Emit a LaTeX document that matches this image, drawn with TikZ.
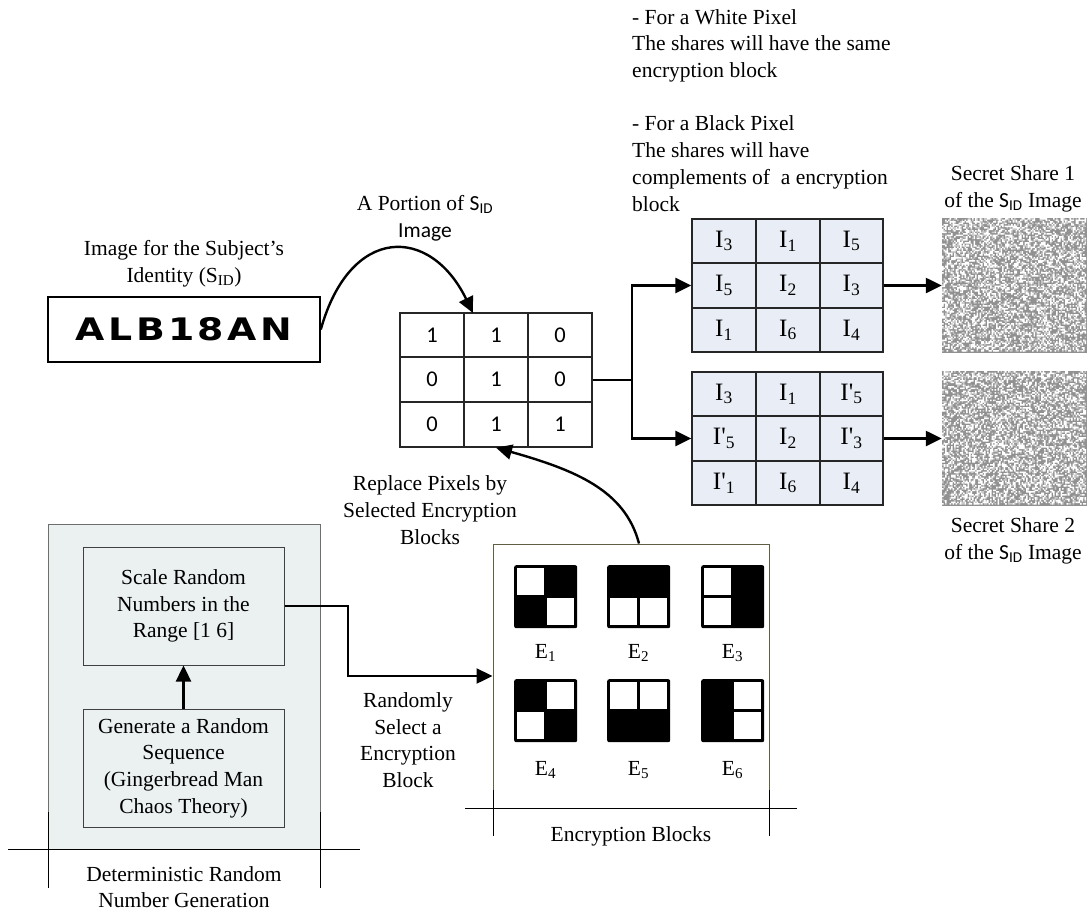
\documentclass[tikz,border=0pt]{standalone}
\usepackage{fontspec}
\usepackage{graphicx}
\setmainfont{Liberation Serif}
\newfontfamily\carl{Carlito}
\newfontfamily\dvb{DejaVu Sans}
\usetikzlibrary{arrows.meta,calc}
\definecolor{gridfill}{RGB}{233,237,245}
\definecolor{drngfill}{RGB}{235,241,241}
\definecolor{drngborder}{RGB}{110,110,110}
\definecolor{encborder}{RGB}{95,95,70}
\definecolor{noisemid}{RGB}{145,145,145}
\definecolor{noiselight}{RGB}{200,200,200}
\tikzset{
  txt/.style={font=\fontsize{21.5}{26.7}\selectfont, align=center, inner sep=0pt},
  conn/.style={line width=2.4pt, -{Triangle[length=16pt,width=15pt]}},
  plainline/.style={line width=2.4pt},
  gridbox/.style={draw=black!85, line width=1.3pt, fill=gridfill, minimum width=191pt, minimum height=133pt, inner sep=0pt},
  gridline/.style={draw=black!85, line width=1.3pt},
  celltxt/.style={font=\fontsize{25}{25}\selectfont, inner sep=0pt},
  digit/.style={font=\carl\fontsize{22.5}{22.5}\selectfont, inner sep=0pt},
  inbox/.style={draw=black!75, line width=1pt, fill=drngfill, minimum width=201pt, minimum height=118pt, inner sep=0pt, align=center, font=\fontsize{21.5}{26.7}\selectfont},
  sep/.style={line width=1pt, draw=black},
}
\newcommand\mynoise[2]{%
  \fill[noisemid] (#1,#2) rectangle ++(145,135);
  \fill[noiselight] \foreach \k in {1,...,2600} {({#1+1.5*int(rnd*96)},{#2+1.5*int(rnd*89)}) rectangle ++(1.5,1.5)};
  \fill[white] \foreach \k in {1,...,3300} {({#1+1.5*int(rnd*96)},{#2+1.5*int(rnd*89)}) rectangle ++(1.5,1.5)};
}
\newcommand\eblock[7]{%
  \node[fill=black, rounded corners=2pt, minimum size=63pt, inner sep=0pt, anchor=north west] (#1) at (#2,#3) {};
  \ifnum#4=1 \fill[white] ({#2+3},{#3+3}) rectangle ++(26.75,26.75);\fi
  \ifnum#5=1 \fill[white] ({#2+33.25},{#3+3}) rectangle ++(26.75,26.75);\fi
  \ifnum#6=1 \fill[white] ({#2+3},{#3+33.25}) rectangle ++(26.75,26.75);\fi
  \ifnum#7=1 \fill[white] ({#2+33.25},{#3+33.25}) rectangle ++(26.75,26.75);\fi
}
\begin{document}
\begin{tikzpicture}[x=1pt,y=-1pt]
\pgfmathsetseed{7}
\useasboundingbox (0,0) rectangle (1089,913);

% explanatory note
\node[txt, align=left, anchor=north west] (note) at (632,9)
  {- For a White Pixel\\The shares will have the same\\encryption block\\[26.7pt]- For a Black Pixel\\The shares will have\\complements of~ a encryption\\block};

% subject identity image
\node[txt] (idlab) at (184,264) {Image for the Subject's\\Identity (S\textsubscript{ID})};
\node[draw, line width=1.6pt, minimum width=272pt, minimum height=65pt, inner sep=0pt] (alb) at (184,329.5)
  {\scalebox{1.22}[1]{\dvb\bfseries\fontsize{31}{31}\selectfont\addfontfeatures{LetterSpace=9}ALB18AN}};

% portion matrix
\node[draw=black!85, line width=1.3pt, minimum width=192pt, minimum height=134pt, inner sep=0pt] (m) at (496,380) {};
\draw[gridline] (464,313) -- (464,447) (528,313) -- (528,447) (400,357) -- (592,357) (400,402) -- (592,402);
\foreach \x/\y/\t [count=\k] in {432/335/1, 496/335/1, 560/335/0, 432/379.5/0, 496/379.5/1, 560/379.5/0, 432/424.5/0, 496/424.5/1, 560/424.5/1}
  \node[digit] (d\k) at (\x,\y) {\t};

\node[txt] (portlab) at (425,218) {A Portion of {\carl S\textsubscript{ID}}\\{\carl Image}};
\coordinate (mtop) at (473,313);
\draw[conn] (alb.east) .. controls (350,225) and (430,225) .. (mtop);

% share grids
\node[gridbox] (g1) at (787.5,285.5) {};
\draw[gridline] (756,219) -- (756,352) (820,219) -- (820,352) (692,263) -- (883,263) (692,308) -- (883,308);
\node[gridbox] (g2) at (787.5,438.5) {};
\draw[gridline] (756,372) -- (756,505) (820,372) -- (820,505) (692,416) -- (883,416) (692,461) -- (883,461);
\foreach \x/\y/\t [count=\k] in {
  724/241/{I\textsubscript{3}}, 788/241/{I\textsubscript{1}}, 851.5/241/{I\textsubscript{5}},
  724/285.5/{I\textsubscript{5}}, 788/285.5/{I\textsubscript{2}}, 851.5/285.5/{I\textsubscript{3}},
  724/330/{I\textsubscript{1}}, 788/330/{I\textsubscript{6}}, 851.5/330/{I\textsubscript{4}}}
  \node[celltxt] (ga\k) at (\x,\y) {\t};
\foreach \x/\y/\t [count=\k] in {
  724/394/{I\textsubscript{3}}, 788/394/{I\textsubscript{1}}, 851.5/394/{I\textquotesingle\textsubscript{5}},
  724/438.5/{I\textquotesingle\textsubscript{5}}, 788/438.5/{I\textsubscript{2}}, 851.5/438.5/{I\textquotesingle\textsubscript{3}},
  724/483/{I\textquotesingle\textsubscript{1}}, 788/483/{I\textsubscript{6}}, 851.5/483/{I\textsubscript{4}}}
  \node[celltxt] (gb\k) at (\x,\y) {\t};

\coordinate (split) at (632,380);
\draw[plainline] (m.east) -- (split);
\draw[conn] (split) |- (g1.west);
\draw[conn] (split) |- (g2.west);

% secret shares
\node[minimum width=145pt, minimum height=135pt, inner sep=0pt] (n1) at (1014.5,285.5) {};
\node[minimum width=145pt, minimum height=135pt, inner sep=0pt] (n2) at (1014.5,438.5) {};
\mynoise{942}{218}
\mynoise{942}{371}
\draw[conn] (g1.east) -- (n1.west);
\draw[conn] (g2.east) -- (n2.west);
\node[txt] (s1lab) at (1013,189) {Secret Share 1\\of the {\carl S\textsubscript{ID}} Image};
\node[txt] (s2lab) at (1013,541) {Secret Share 2\\of the {\carl S\textsubscript{ID}} Image};

% deterministic random number generation
\node[draw=drngborder, fill=drngfill, line width=1pt, minimum width=272pt, minimum height=325pt, inner sep=0pt] (drng) at (184,686.5) {};
\draw[sep] (8,849) -- (360,849);
\draw[sep] (48,812) -- (48,888) (320,812) -- (320,888);
\node[txt] (drnglab) at (184,887) {Deterministic Random\\Number Generation};
\node[inbox] (scale) at (183.5,606) {Scale Random\\Numbers in the\\Range [1 6]};
\node[inbox] (gen) at (183.5,768) {Generate a Random\\Sequence\\(Gingerbread Man\\Chaos Theory)};
\draw[conn] (gen.north) -- (scale.south);

% encryption blocks
\node[draw=encborder, fill=white, line width=1pt, minimum width=276pt, minimum height=264pt, inner sep=0pt] (enc) at (631,676) {};
\draw[sep] (465,808) -- (797,808);
\draw[sep] (493,790) -- (493,836) (769,790) -- (769,836);
\node[txt] (enclab) at (631,836) {Encryption Blocks};
\eblock{b1}{514}{565}{1}{0}{0}{1}
\eblock{b2}{607}{565}{0}{0}{1}{1}
\eblock{b3}{701}{565}{1}{0}{1}{0}
\eblock{b4}{514}{679}{0}{1}{1}{0}
\eblock{b5}{607}{679}{1}{1}{0}{0}
\eblock{b6}{701}{679}{0}{1}{0}{1}
\foreach \x/\y/\n in {545.5/653/1, 638.5/653/2, 732.5/653/3, 545.5/770/4, 638.5/770/5, 732.5/770/6}
  \node[txt] (e\n) at (\x,\y) {E\textsubscript{\n}};

\coordinate (bend) at (348,606);
\draw[conn] (scale.east) -- (bend) |- (enc.west);
\node[txt] (randlab) at (408,740) {Randomly\\Select a\\Encryption\\Block};

\draw[conn] ($(enc.north)+(8,0)$) .. controls (625,490) and (575,470) .. (m.south);
\node[txt] (replab) at (430,510) {Replace Pixels by\\Selected Encryption\\Blocks};
\end{tikzpicture}
\end{document}
